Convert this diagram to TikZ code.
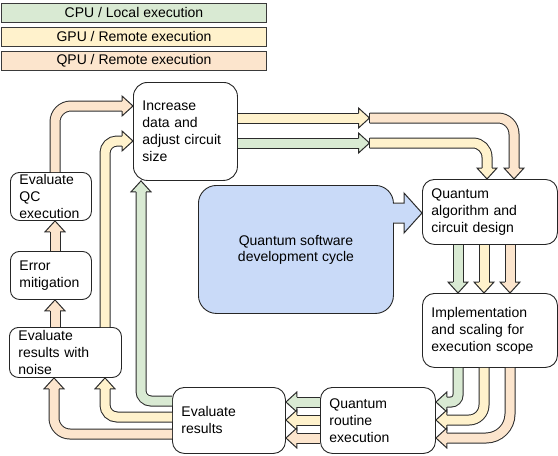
\documentclass[tikz,border=0pt]{standalone}
\usepackage{fontspec}
\setmainfont{Liberation Sans}
\usetikzlibrary{calc}

\definecolor{cpu}{HTML}{D9EAD3}
\definecolor{gpu}{HTML}{FFF2CC}
\definecolor{qpu}{HTML}{FCE5CD}
\definecolor{devblue}{HTML}{C9DAF8}
\definecolor{boxline}{HTML}{262626}
\definecolor{arrowline}{HTML}{2B2B2B}
\definecolor{legendline}{HTML}{3A3A3A}
\newcommand{\labelfont}{\fontsize{14pt}{17pt}\selectfont}

\tikzset{
  legendbox/.style={draw=legendline, line width=0.9pt, fill=#1, minimum width=265pt,
    minimum height=19pt, inner sep=0pt, anchor=north west, font=\labelfont},
  stepbox/.style={draw=boxline, line width=0.9pt, fill=white, rounded corners=12pt,
    inner xsep=9pt, inner ysep=0pt, align=left, anchor=north west, font=\labelfont},
  fatshaft/.style={draw=arrowline, line width=1pt, double=#1, double distance=9pt},
  edgeline/.style={draw=arrowline, line width=1pt},
  % block arrow head, tip at the origin, pointing along +x
  pics/fathead/.style={code={
    \fill[#1] (-11,-10) -- (0,0) -- (-11,10) -- cycle;
    \draw[edgeline] (-11,-5) -- (-11,-10) -- (0,0) -- (-11,10) -- (-11,5);
  }},
}

\begin{document}
\begin{tikzpicture}[x=1pt, y=-1pt]
\useasboundingbox (0,0) rectangle (558,456);

% legend
\node[legendbox=cpu] (legcpu) at (1,3)  {CPU / Local execution};
\node[legendbox=gpu] (leggpu) at (1,27) {GPU / Remote execution};
\node[legendbox=qpu] (legqpu) at (1,51) {QPU / Remote execution};

% steps of the cycle
\node[stepbox, rounded corners=14pt, text width=86pt, minimum height=98pt] (inc) at (133,82)
  {Increase\\data and\\adjust circuit\\size};
\node[stepbox, text width=117pt, minimum height=65pt] (qalg) at (422,179)
  {Quantum\\algorithm and\\circuit design};
\node[stepbox, text width=117pt, minimum height=74pt] (impl) at (422,293)
  {Implementation\\and scaling for\\execution scope};
\node[stepbox, text width=97pt, minimum height=66pt] (qre) at (320,387)
  {Quantum\\routine\\execution};
\node[stepbox, text width=95pt, minimum height=66pt] (evr) at (172,387)
  {Evaluate\\results};
\node[stepbox, rounded corners=9pt, text width=94pt, minimum height=50pt] (evn) at (9,327)
  {Evaluate\\results with\\noise};
\node[stepbox, rounded corners=9pt, text width=63pt, minimum height=48pt] (emit) at (10,251)
  {Error\\mitigation};
\node[stepbox, rounded corners=9pt, text width=63pt, minimum height=48pt] (evqc) at (10,172)
  {Evaluate\\QC\\execution};

% central callout
\node[draw=boxline, line width=0.9pt, fill=devblue, rounded corners=18pt,
  minimum width=195pt, minimum height=128pt, anchor=north west, align=center,
  font=\fontsize{14pt}{16pt}\selectfont] (dev) at (198,185)
  {Quantum software\\development cycle};
\fill[devblue] ($(dev.east |- 0,203.5)+(-1.6,0)$) -- (404,203.5) -- (404,193) -- (qalg.west |- 0,213)
  -- (404,233) -- (404,222.5) -- ($(dev.east |- 0,222.5)+(-1.6,0)$) -- cycle;
\draw[edgeline] (dev.east |- 0,203) -- (404,203) -- (404,193) -- (qalg.west |- 0,213)
  -- (404,233) -- (404,223) -- (dev.east |- 0,223);

% hand-over points where the resources change
\coordinate (yjoin) at (369.5,118);
\coordinate (gjoin) at (369.5,143);

% increase -> quantum algorithm
\draw[fatshaft=gpu] (inc.east |- yjoin) -- ($(yjoin)+(-11,0)$);
\draw[fatshaft=cpu] (inc.east |- gjoin) -- ($(gjoin)+(-11,0)$);
\pic at (yjoin) {fathead=gpu};
\pic at (gjoin) {fathead=cpu};
\draw[fatshaft=qpu, rounded corners=16pt] (yjoin) -| ($(qalg.north -| 514,0)+(0,-11)$);
\draw[fatshaft=gpu, rounded corners=14pt] (gjoin) -| ($(qalg.north -| 487,0)+(0,-11)$);
\draw[edgeline] ($(yjoin)+(0,-5)$) -- ($(yjoin)+(0,5)$);
\draw[edgeline] ($(gjoin)+(0,-5)$) -- ($(gjoin)+(0,5)$);
\pic[rotate=-90] at (qalg.north -| 514,0) {fathead=qpu};
\pic[rotate=-90] at (qalg.north -| 487,0) {fathead=gpu};

% quantum algorithm -> implementation
\foreach \xx/\cc in {458/cpu, 484/gpu, 510/qpu}{
  \draw[fatshaft=\cc] (qalg.south -| \xx,0) -- ($(impl.north -| \xx,0)+(0,-11)$);
  \pic[rotate=-90] at (impl.north -| \xx,0) {fathead=\cc};
}

% implementation -> quantum routine execution
\draw[fatshaft=cpu, rounded corners=7pt]  (impl.south -| 458,0) |- ($(qre.east |- 0,402)+(11,0)$);
\draw[fatshaft=gpu, rounded corners=15pt] (impl.south -| 484,0) |- ($(qre.east |- 0,420)+(11,0)$);
\draw[fatshaft=qpu, rounded corners=24pt] (impl.south -| 510,0) |- ($(qre.east |- 0,438)+(11,0)$);
\pic[rotate=180] at (qre.east |- 0,402) {fathead=cpu};
\pic[rotate=180] at (qre.east |- 0,420) {fathead=gpu};
\pic[rotate=180] at (qre.east |- 0,438) {fathead=qpu};

% quantum routine execution -> evaluate results
\foreach \yy/\cc in {402/cpu, 420/gpu, 438/qpu}{
  \draw[fatshaft=\cc] (qre.west |- 0,\yy) -- ($(evr.east |- 0,\yy)+(11,0)$);
  \pic[rotate=180] at (evr.east |- 0,\yy) {fathead=\cc};
}

% evaluate results -> back into the loop
\draw[fatshaft=cpu, rounded corners=10pt] (evr.west |- 0,401) -| ($(inc.south -| 141,0)+(0,11)$);
\draw[fatshaft=gpu, rounded corners=12pt] (evr.west |- 0,417) -| ($(evn.south -| 105,0)+(0,11)$);
\draw[fatshaft=qpu, rounded corners=16pt] (evr.west |- 0,434) -| ($(evn.south -| 54,0)+(0,11)$);
\pic[rotate=90] at (inc.south -| 141,0) {fathead=cpu};
\pic[rotate=90] at (evn.south -| 105,0) {fathead=gpu};
\pic[rotate=90] at (evn.south -| 54,0) {fathead=qpu};

% noisy evaluation chain
\draw[fatshaft=gpu, rounded corners=12pt] (evn.north -| 105,0) |- ($(inc.west |- 0,141)+(-11,0)$);
\pic at (inc.west |- 0,141) {fathead=gpu};
\draw[fatshaft=qpu] (evn.north -| 55,0) -- ($(emit.south -| 55,0)+(0,11)$);
\pic[rotate=90] at (emit.south -| 55,0) {fathead=qpu};
\draw[fatshaft=qpu] (emit.north -| 55,0) -- ($(evqc.south -| 55,0)+(0,11)$);
\pic[rotate=90] at (evqc.south -| 55,0) {fathead=qpu};
\draw[fatshaft=qpu, rounded corners=16pt] (evqc.north -| 55,0) |- ($(inc.west |- 0,106)+(-11,0)$);
\pic at (inc.west |- 0,106) {fathead=qpu};
\end{tikzpicture}
\end{document}
